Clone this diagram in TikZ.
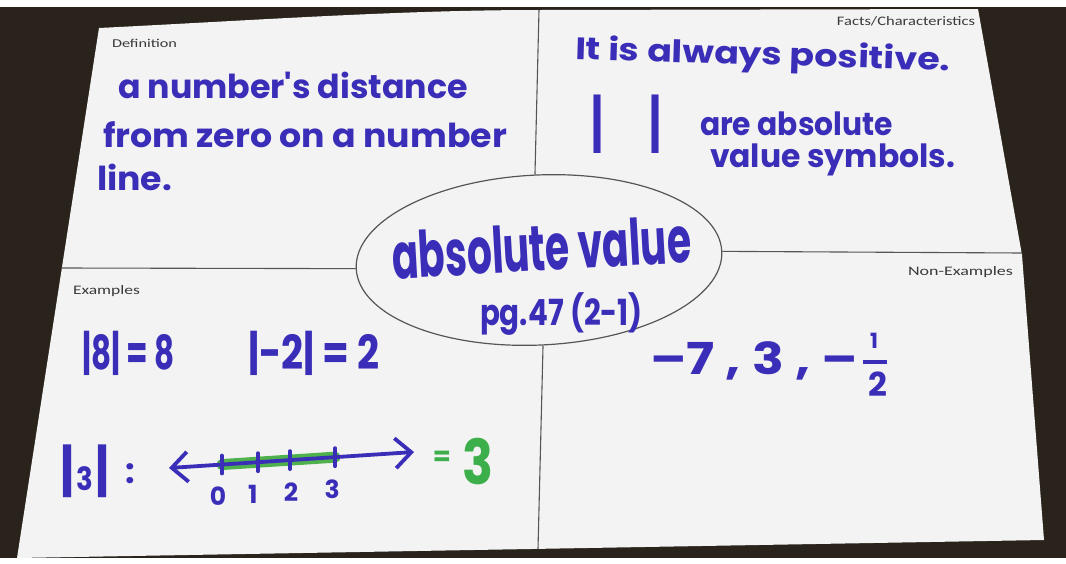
\documentclass[tikz,border=0pt]{standalone}
\usepackage{fontspec}
\usepackage{graphicx}
\usepackage{tikz}
\usetikzlibrary{positioning, arrows.meta, shapes.geometric, calc}
\newfontfamily\inkfont{Poppins}
\newfontfamily\labelfont{Carlito}
\definecolor{inkBlue}{HTML}{3A2EB8}
\definecolor{inkGreen}{HTML}{3CAF4B}
\definecolor{hiliteGreen}{HTML}{4FB04E}
\definecolor{paperWhite}{HTML}{F3F3F3}
\definecolor{deskBrown}{HTML}{2A231B}
\definecolor{ruleGray}{HTML}{555555}
\definecolor{labelText}{HTML}{3A3A3A}
\newcommand{\hand}[1]{\inkfont\bfseries\fontsize{#1}{#1}\selectfont}
\newcommand{\printed}[1]{\labelfont\fontsize{#1}{#1}\selectfont}
\newcommand{\fitw}[2]{\resizebox{#1}{\height}{#2}}

\begin{document}
\begin{tikzpicture}[x=1pt, y=-1pt,
  ink/.style={inner sep=0pt, outer sep=0pt, text=inkBlue},
  inkg/.style={ink, text=inkGreen},
  printed/.style={inner sep=0pt, outer sep=0pt, text=labelText},
  gridline/.style={draw=ruleGray, line width=1.1pt},
  nline/.style={<->, >={Straight Barb[length=16pt, width=30pt]}, draw=inkBlue,
                line width=3.8pt, line cap=round},
  tickmark/.style={draw=inkBlue, line width=3.8pt, line cap=round},
  hilite/.style={draw=hiliteGreen, line width=11pt, line cap=round},
]
  \useasboundingbox (0,0) rectangle (1066,563);

  % ═══ Photo: desk and sheet of paper ═══
  \fill[white] (0,0) rectangle (1066,563);
  \fill[deskBrown] (0,7) rectangle (1066,558);
  \coordinate (pTL) at (99,28);
  \coordinate (pTM) at (540,10);
  \coordinate (pTR) at (978,9);
  \coordinate (pRM) at (1022,255);
  \coordinate (pBR) at (1044,540);
  \coordinate (pBL) at (17,558);
  \fill[paperWhite] (pTL) .. controls (260,20) and (400,10) .. (pTM)
        -- (pTR) -- (pRM) -- (pBR) -- (pBL) -- cycle;

  % ═══ Four quadrants around the central oval ═══
  \node[draw=ruleGray, line width=1.2pt, fill=paperWhite, ellipse,
        minimum width=366pt, minimum height=170pt, rotate=2.7] (oval) at (539,260) {};
  \coordinate (vTop) at (539,10);
  \coordinate (vBot) at (538,549);
  \coordinate (hL)   at (62,268);
  \coordinate (hR)   at (1022,253);
  \draw[gridline] (vTop) -- (oval.north);
  \draw[gridline] (oval.south) -- (vBot);
  \draw[gridline] (hL) -- (oval.west);
  \draw[gridline] (oval.east) -- (hR);

  % printed headings
  \node[printed, font=\printed{12}, anchor=base west] (lblDef) at (112,47) {\fitw{65pt}{Definition}};
  \node[printed, font=\printed{13}, anchor=base east] (lblFact) at (975,25) {\fitw{138pt}{Facts/Characteristics}};
  \node[printed, font=\printed{13}, anchor=base west] (lblEx) at (73,294) {\fitw{67pt}{Examples}};
  \node[printed, font=\printed{13}, anchor=base east] (lblNon) at (1013,275) {\fitw{105pt}{Non-Examples}};

  % ═══ Centre: the term ═══
  \node[ink, font=\hand{64}, anchor=base west, rotate=3.2] (term) at (393,279) {\fitw{300pt}{absolute value}};
  \node[ink, font=\hand{36}, anchor=base west] (page) at (480,325) {\fitw{163pt}{pg.47 (2-1)}};

  % ═══ Definition ═══
  \node[ink, font=\hand{33}, anchor=base west] (def1) at (118,98) {\fitw{350pt}{a number's distance}};
  \node[ink, font=\hand{33}, anchor=base west] (def2) at (103,147) {\fitw{404pt}{from zero on a number}};
  \node[ink, font=\hand{33}, anchor=base west] (def3) at (97,190) {\fitw{75pt}{line.}};

  % ═══ Facts / characteristics ═══
  \node[ink, font=\hand{31}, anchor=base west, rotate=-1.8] (fact1) at (575,59) {\fitw{375pt}{It is always positive.}};
  \node[ink, font=\hand{62}] (barL) at (597,124) {\fitw{12pt}{|}};
  \node[ink, font=\hand{62}] (barR) at (655,124) {\fitw{12pt}{|}};
  \node[ink, font=\hand{32}, anchor=base west] (fact2) at (700,135) {\fitw{193pt}{are absolute}};
  \node[ink, font=\hand{32}, anchor=base west] (fact3) at (710,167) {\fitw{245pt}{value symbols.}};

  % ═══ Examples ═══
  \node[ink, font=\hand{47}, anchor=base west] (ex1) at (82,369) {\fitw{93pt}{|8| = 8}};
  \node[ink, font=\hand{47}, anchor=base west] (ex2) at (248,369) {\fitw{132pt}{|-2| = 2}};
  \node[ink, anchor=base west] (abs3) at (60,490)
        {\fitw{50pt}{\hand{56}|\hspace{3pt}{\hand{32}3}\hspace{3pt}|}};
  \node[ink, font=\hand{34}] (colon) at (130,474) {:};

  % number line with 0..3 highlighted
  \coordinate (nlL) at (169,468);
  \coordinate (nlR) at (414,452);
  \foreach \t/\n in {0.216/0, 0.363/1, 0.494/2, 0.678/3}
    \path (nlL) -- (nlR) coordinate[pos=\t] (tk\n);
  \draw[hilite] (tk0) -- (tk3);
  \draw[nline] (nlL) -- (nlR);
  \foreach \n in {0,...,3}
    \draw[tickmark] ($(tk\n)+(0,-9)$) -- ($(tk\n)+(0,9)$);
  \foreach \n/\dx in {0/-4, 1/-5, 2/1, 3/-3}
    \node[ink, font=\hand{25}] (nl\n) at ($(tk\n)+(\dx,32)$) {\n};
  \node[inkg, font=\hand{26}] (eqs) at (442,458) {=};
  \node[inkg, font=\hand{62}, anchor=base west] (res) at (462,484) {\fitw{31pt}{3}};

  % ═══ Non-examples ═══
  \node[ink, font=\hand{44}, anchor=base west] (non1) at (650,374) {\fitw{208pt}{–7 , 3 , –}};
  \node[ink, font=\hand{21}] (fone) at (874,341) {1};
  \node[ink] (fbar) at (875,362) {\rule{24pt}{3.5pt}};
  \node[ink, font=\hand{33}] (ftwo) at (878,384) {2};
\end{tikzpicture}
\end{document}
